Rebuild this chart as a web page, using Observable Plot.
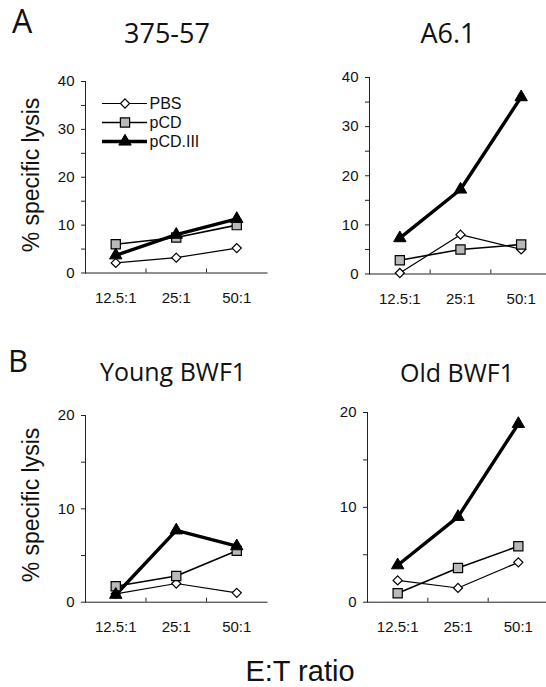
<!DOCTYPE html>
<html>
<head>
<meta charset="utf-8">
<script src="https://cdn.jsdelivr.net/npm/d3@7"></script>
<script src="https://cdn.jsdelivr.net/npm/@observablehq/plot@0.6"></script>
<style>
  html, body { margin: 0; padding: 0; background: #fff; }
  #fig { position: relative; width: 546px; height: 687px; overflow: hidden; background: #fff; }
  #fig > .panel { position: absolute; }
  #fig > svg.overlay { position: absolute; left: 0; top: 0; pointer-events: none; }
</style>
</head>
<body>
<div id="fig"></div>
<script>
// ---------- data ----------
const categories = ["12.5:1", "25:1", "50:1"];
const seriesNames = ["PBS", "pCD", "pCD.III"];
const panelTitles = ["375-57", "A6.1", "Young BWF1", "Old BWF1"];
const panelMax = [40, 40, 20, 20];
// rows: PBS, pCD, pCD.III ; columns: categories
const lysis37557 = [[2.1, 3.2, 5.2], [6.0, 7.4, 10.0], [3.7, 8.0, 11.3]];
const lysisA61   = [[0.2, 8.0, 5.0], [2.8, 5.0, 6.0], [7.3, 17.2, 36.0]];
const lysisYoung = [[0.9, 2.0, 1.0], [1.7, 2.8, 5.5], [0.8, 7.7, 6.0]];
const lysisOld   = [[2.3, 1.5, 4.2], [0.95, 3.6, 5.9], [3.9, 9.0, 18.8]];
const panelValues = [lysis37557, lysisA61, lysisYoung, lysisOld];

// ---------- styles / layout ----------
const seriesStyle = {
  "PBS":     {strokeWidth: 1.2, symbol: "diamond2", r: 4.1, fill: "#ffffff", dotStroke: 1.2},
  "pCD":     {strokeWidth: 1.6, symbol: "square",   r: 5.2, fill: "#b9b9b9", dotStroke: 1.2},
  "pCD.III": {strokeWidth: 3.4, symbol: "triangle", r: 4.6, fill: "#000000", dotStroke: 1}
};
const panelLayout = [
  {left: 0,   top: 0,   width: 273, height: 310, mL: 85, mR: 6.5, mT: 81, mB: 37.5},
  {left: 273, top: 0,   width: 281, height: 310, mL: 96, mR: 3,   mT: 77, mB: 36.5},
  {left: 0,   top: 330, width: 273, height: 310, mL: 85, mR: 6.5, mT: 85, mB: 38.3},
  {left: 273, top: 330, width: 281, height: 310, mL: 94, mR: 6,   mT: 82, mB: 38.3}
];
const tickFont = "'Liberation Sans', Arial, Helvetica, sans-serif";
const titleFont = "'Open Sans', 'DejaVu Sans', sans-serif";
const ink = "#111";

const fig = document.getElementById("fig");

function makePanel(values, max, L) {
  const rows = [];
  seriesNames.forEach((s, si) => categories.forEach((c, ci) => {
    rows.push({series: s, cat: c, idx: ci, value: values[si][ci]});
  }));
  const innerH = L.height - L.mT - L.mB;
  const marks = [
    Plot.frame({anchor: "left", stroke: "#222", strokeWidth: 1}),
    Plot.frame({anchor: "bottom", stroke: "#222", strokeWidth: 1}),
    Plot.axisY({
      ticks: d3.range(0, max + 1, 5), tickSize: 4, tickPadding: 7,
      tickFormat: d => (d % 10 === 0 ? String(d) : ""), label: null, stroke: "#222"
    }),
    Plot.axisX({
      ticks: categories.map((c, i) => i + 0.5), tickFormat: v => categories[Math.floor(v)],
      tickSize: 0, tickPadding: 19, label: null
    }),
    Plot.ruleX(d3.range(1, categories.length), {insetTop: innerH - 4, stroke: "#222", strokeWidth: 1})
  ];
  for (const s of seriesNames) {
    const st = seriesStyle[s];
    marks.push(Plot.line(rows.filter(d => d.series === s), {
      x: d => d.idx + 0.5, y: "value", stroke: "#000", strokeWidth: st.strokeWidth
    }));
  }
  for (const s of seriesNames) {
    const st = seriesStyle[s];
    marks.push(Plot.dot(rows.filter(d => d.series === s), {
      x: d => d.idx + 0.5, y: "value", symbol: st.symbol, r: st.r,
      fill: st.fill, stroke: "#000", strokeWidth: st.dotStroke
    }));
  }
  const svg = Plot.plot({
    width: L.width, height: L.height,
    marginLeft: L.mL, marginRight: L.mR, marginTop: L.mT, marginBottom: L.mB,
    x: {domain: [0, categories.length]},
    y: {domain: [0, max]},
    style: {fontFamily: tickFont, fontSize: "15px", color: ink, background: "transparent"},
    marks
  });
  svg.classList.add("panel");
  svg.style.left = L.left + "px";
  svg.style.top = L.top + "px";
  fig.appendChild(svg);
}

panelValues.forEach((v, i) => makePanel(v, panelMax[i], panelLayout[i]));

// ---------- legend (inside first panel) ----------
const legendMarks = [];
for (const s of seriesNames) {
  const st = seriesStyle[s];
  legendMarks.push(Plot.ruleY([s], {y: d => d, x1: 0, x2: 1, stroke: "#000", strokeWidth: st.strokeWidth}));
  legendMarks.push(Plot.dot([s], {x: 0.5, y: d => d, symbol: st.symbol, r: st.r, fill: st.fill, stroke: "#000", strokeWidth: st.dotStroke}));
  legendMarks.push(Plot.text([s], {x: 1, y: d => d, text: d => d, dx: 2, textAnchor: "start", fontSize: 16, fill: ink}));
}
const legend = Plot.plot({
  width: 115, height: 58, marginLeft: 0, marginRight: 70, marginTop: 10, marginBottom: 10,
  x: {domain: [0, 1], axis: null},
  y: {type: "point", domain: seriesNames, padding: 0, axis: null},
  style: {fontFamily: tickFont, fontSize: "16px", color: ink, background: "transparent"},
  marks: legendMarks
});
legend.classList.add("panel");
legend.style.left = "101.5px";
legend.style.top = "93px";
fig.appendChild(legend);

// ---------- titles and axis titles ----------
const ov = d3.select(fig).append("svg").attr("class", "overlay")
  .attr("width", 546).attr("height", 687);
function txt(str, x, y, opts) {
  const t = ov.append("text").attr("x", x).attr("y", y).text(str)
    .attr("font-family", opts.font).attr("font-size", opts.size)
    .attr("fill", ink).attr("text-anchor", opts.anchor || "middle");
  if (opts.weight) t.attr("font-weight", opts.weight);
  if (opts.rotate) t.attr("transform", `rotate(-90 ${x} ${y})`);
  return t;
}
txt("A", 12, 33, {font: titleFont, size: 32, anchor: "start", weight: 500});
txt("B", 8, 372, {font: titleFont, size: 31, anchor: "start", weight: 500});
txt(panelTitles[0], 167, 43, {font: titleFont, size: 27});
txt(panelTitles[1], 448, 43, {font: titleFont, size: 27});
txt(panelTitles[2], 173, 381, {font: titleFont, size: 25});
txt(panelTitles[3], 457, 382, {font: titleFont, size: 25});
txt("% specific lysis", 39, 175, {font: tickFont, size: 23, rotate: true});
txt("% specific lysis", 39, 505, {font: tickFont, size: 23, rotate: true});
txt("E:T ratio", 300, 681, {font: tickFont, size: 29});
</script>
</body>
</html>
